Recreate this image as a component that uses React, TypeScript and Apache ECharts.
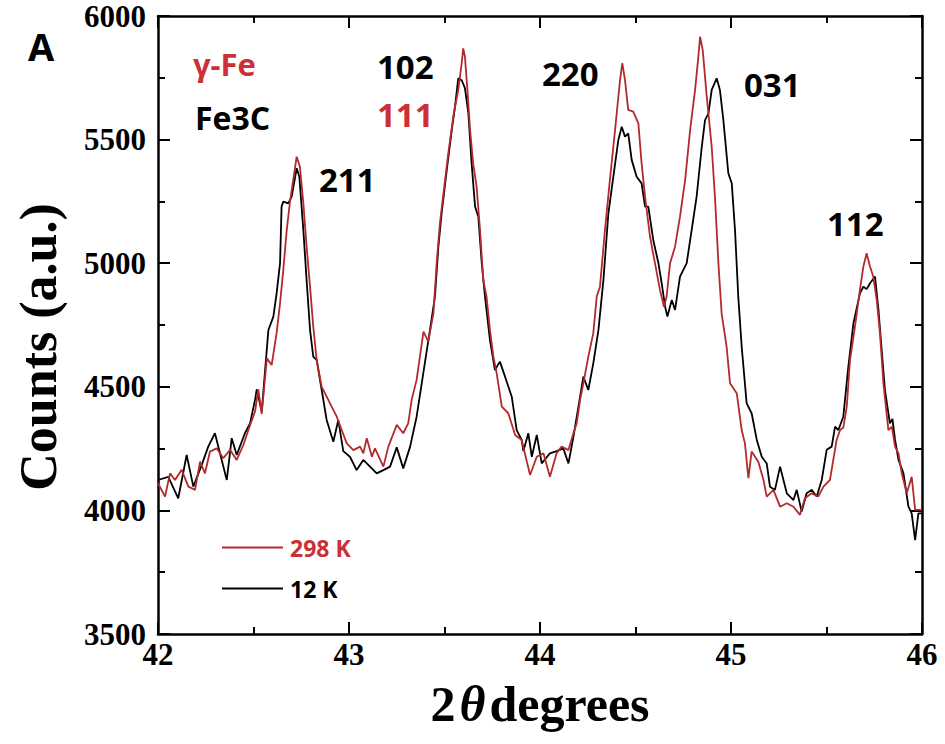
import React, { useEffect, useRef } from "react";
import * as echarts from "echarts";

const xTicks = { min: 42, max: 46, interval: 1 };
const yTicks = { min: 3500, max: 6000, interval: 500 };

const seriesNames = ["298 K", "12 K"];

// 298 K (red) [2θ, counts]
const data298K: number[][] = [
  [42.0, 4110], [42.037, 4056], [42.063, 4150], [42.089, 4123], [42.124, 4164], [42.159, 4096], [42.194, 4083], [42.22, 4197], [42.246, 4150], [42.272, 4238],
  [42.307, 4251], [42.342, 4211], [42.377, 4245], [42.412, 4204], [42.447, 4265], [42.473, 4325], [42.508, 4400], [42.525, 4490], [42.543, 4390], [42.57, 4615],
  [42.595, 4588], [42.621, 4717], [42.639, 4838], [42.656, 4973], [42.674, 5134], [42.691, 5249], [42.708, 5337], [42.726, 5431], [42.743, 5390], [42.761, 5242],
  [42.778, 5067], [42.796, 4905], [42.813, 4743], [42.831, 4608], [42.857, 4500], [42.883, 4460], [42.909, 4420], [42.936, 4379], [42.962, 4325], [42.988, 4271],
  [43.023, 4244], [43.058, 4258], [43.075, 4231], [43.093, 4292], [43.12, 4217], [43.136, 4251], [43.18, 4177], [43.206, 4258], [43.25, 4346], [43.284, 4312],
  [43.31, 4352], [43.328, 4447], [43.354, 4528], [43.39, 4723], [43.415, 4683], [43.442, 4797], [43.459, 5000], [43.476, 5161], [43.503, 5337], [43.52, 5445],
  [43.546, 5593], [43.572, 5701], [43.59, 5809], [43.598, 5869], [43.607, 5835], [43.62, 5701], [43.634, 5539], [43.65, 5404], [43.668, 5310], [43.686, 5134],
  [43.703, 4932], [43.72, 4865], [43.738, 4730], [43.756, 4622], [43.773, 4555], [43.8, 4420], [43.834, 4393], [43.87, 4305], [43.904, 4285], [43.948, 4143],
  [43.983, 4217], [44.018, 4231], [44.052, 4136], [44.087, 4231], [44.113, 4258], [44.149, 4244], [44.175, 4312], [44.192, 4352], [44.21, 4447], [44.227, 4514],
  [44.253, 4622], [44.279, 4717], [44.297, 4865], [44.314, 4905], [44.34, 5134], [44.366, 5337], [44.393, 5539], [44.419, 5741], [44.431, 5809], [44.445, 5741],
  [44.462, 5620], [44.488, 5613], [44.515, 5566], [44.532, 5404], [44.55, 5269], [44.576, 5107], [44.602, 5000], [44.628, 4892], [44.649, 4824], [44.663, 4865],
  [44.681, 5000], [44.707, 5067], [44.733, 5188], [44.76, 5337], [44.786, 5539], [44.812, 5701], [44.829, 5835], [44.838, 5916], [44.852, 5862], [44.873, 5674],
  [44.899, 5471], [44.916, 5269], [44.934, 5000], [44.951, 4797], [44.977, 4662], [44.995, 4514], [45.03, 4474], [45.056, 4325], [45.073, 4271], [45.091, 4130],
  [45.108, 4238], [45.143, 4197], [45.17, 4123], [45.187, 4056], [45.222, 4083], [45.257, 4015], [45.292, 4029], [45.327, 4015], [45.361, 3982], [45.387, 4049],
  [45.422, 4069], [45.457, 4056], [45.484, 4096], [45.518, 4123], [45.553, 4285], [45.571, 4325], [45.588, 4335], [45.606, 4420], [45.623, 4608], [45.649, 4743],
  [45.675, 4892], [45.693, 4986], [45.71, 5040], [45.728, 4986], [45.745, 4946], [45.763, 4851], [45.78, 4716], [45.798, 4514], [45.824, 4325], [45.842, 4339],
  [45.859, 4258], [45.877, 4231], [45.894, 4150], [45.92, 4069], [45.946, 4136], [45.964, 4002], [45.99, 4002], [46.0, 4000],
];

// 12 K (black) [2θ, counts]
const data12K: number[][] = [
  [42.0, 4123], [42.054, 4136], [42.106, 4049], [42.15, 4224], [42.185, 4096], [42.229, 4184], [42.263, 4258], [42.298, 4312], [42.36, 4123], [42.386, 4292],
  [42.412, 4224], [42.455, 4312], [42.482, 4352], [42.508, 4447], [42.517, 4490], [42.543, 4400], [42.578, 4730], [42.604, 4784], [42.621, 4878], [42.639, 5000],
  [42.647, 5229], [42.656, 5249], [42.682, 5242], [42.7, 5269], [42.726, 5384], [42.74, 5350], [42.761, 5134], [42.778, 4932], [42.796, 4730], [42.813, 4622],
  [42.831, 4608], [42.857, 4487], [42.883, 4366], [42.918, 4278], [42.944, 4366], [42.97, 4240], [43.005, 4217], [43.04, 4163], [43.075, 4204], [43.11, 4177],
  [43.145, 4150], [43.18, 4163], [43.215, 4177], [43.25, 4255], [43.284, 4170], [43.32, 4258], [43.354, 4379], [43.39, 4560], [43.424, 4730], [43.45, 4865],
  [43.468, 5067], [43.485, 5202], [43.512, 5377], [43.538, 5539], [43.555, 5633], [43.572, 5748], [43.59, 5740], [43.607, 5708], [43.625, 5606], [43.642, 5404],
  [43.66, 5229], [43.677, 5188], [43.695, 5000], [43.712, 4865], [43.738, 4689], [43.764, 4568], [43.79, 4602], [43.817, 4541], [43.852, 4460], [43.878, 4325],
  [43.904, 4285], [43.913, 4240], [43.939, 4312], [43.957, 4217], [43.983, 4305], [44.009, 4190], [44.052, 4231], [44.087, 4240], [44.122, 4251], [44.149, 4190],
  [44.175, 4298], [44.21, 4460], [44.227, 4541], [44.253, 4487], [44.279, 4595], [44.306, 4730], [44.332, 4932], [44.358, 5202], [44.384, 5350], [44.41, 5498],
  [44.428, 5552], [44.445, 5512], [44.462, 5525], [44.48, 5418], [44.506, 5350], [44.532, 5323], [44.55, 5229], [44.567, 5229], [44.593, 5094], [44.62, 5000],
  [44.637, 4919], [44.655, 4824], [44.667, 4784], [44.69, 4851], [44.707, 4811], [44.733, 4946], [44.768, 5000], [44.794, 5134], [44.82, 5269], [44.847, 5471],
  [44.864, 5579], [44.882, 5606], [44.899, 5701], [44.925, 5748], [44.942, 5701], [44.96, 5579], [44.986, 5364], [45.004, 5323], [45.021, 5134], [45.038, 4865],
  [45.056, 4662], [45.082, 4433], [45.108, 4393], [45.135, 4285], [45.161, 4217], [45.187, 4190], [45.204, 4096], [45.23, 4083], [45.257, 4177], [45.292, 4069],
  [45.327, 4042], [45.344, 4083], [45.37, 3995], [45.396, 4069], [45.422, 4083], [45.449, 4056], [45.475, 4123], [45.501, 4245], [45.527, 4258], [45.545, 4339],
  [45.562, 4325], [45.588, 4379], [45.614, 4580], [45.641, 4757], [45.675, 4878], [45.693, 4905], [45.71, 4895], [45.728, 4919], [45.754, 4946], [45.772, 4811],
  [45.789, 4649], [45.806, 4487], [45.832, 4352], [45.845, 4370], [45.859, 4285], [45.877, 4204], [45.903, 4150], [45.929, 4015], [45.946, 3988], [45.964, 3880],
  [45.981, 3988], [46.0, 3988],
];

const RED_LINE = "#b32a2c";
const RED_TEXT = "#cc2f36";
const SERIF = "'Liberation Serif', 'Times New Roman', serif";
const SANS = "'Open Sans', 'Noto Sans', sans-serif";

export default function App() {
  const ref = useRef<HTMLDivElement>(null);

  useEffect(() => {
    if (!ref.current) return;
    const chart = echarts.init(ref.current, undefined, { renderer: "svg" });

    const axisLine = { show: true, onZero: false, lineStyle: { color: "#000", width: 2.5 } };
    const tickStyle = { color: "#000", width: 2 };

    const xBase = {
      type: "value" as const,
      min: xTicks.min,
      max: xTicks.max,
      interval: xTicks.interval,
      axisLine,
      axisTick: { show: true, inside: true, length: 12, lineStyle: tickStyle },
      minorTick: { show: true, splitNumber: 2, length: 7, lineStyle: tickStyle },
      splitLine: { show: false },
      minorSplitLine: { show: false },
    };
    const yBase = {
      type: "value" as const,
      min: yTicks.min,
      max: yTicks.max,
      interval: yTicks.interval,
      axisLine,
      axisTick: { show: true, inside: true, length: 12, lineStyle: tickStyle },
      minorTick: { show: true, splitNumber: 2, length: 7, lineStyle: tickStyle },
      splitLine: { show: false },
      minorSplitLine: { show: false },
    };

    const annotations: [string, number, number, number, string, string][] = [
      ["A", 28, 46, 38, "#000", SANS],
      ["γ-Fe", 193, 64, 31, RED_TEXT, SANS],
      ["Fe3C", 195, 117, 32, "#000", SANS],
      ["102", 377, 66, 33, "#000", SANS],
      ["111", 377, 114, 33, RED_TEXT, SANS],
      ["211", 319, 179, 33, "#000", SANS],
      ["220", 542, 73, 33, "#000", SANS],
      ["031", 744, 84, 33, "#000", SANS],
      ["112", 827, 223, 33, "#000", SANS],
    ];

    chart.setOption({
      animation: false,
      backgroundColor: "#fff",
      grid: { left: 158, right: 23, top: 16, bottom: 110, containLabel: false },
      xAxis: [
        {
          ...xBase,
          position: "bottom",
          axisLabel: {
            show: true,
            margin: 6,
            color: "#000",
            fontFamily: SERIF,
            fontWeight: "bold",
            fontSize: 31,
            lineHeight: 28,
            formatter: (v: number) => String(v),
          },
        },
        { ...xBase, position: "top", axisLabel: { show: false } },
      ],
      yAxis: [
        {
          ...yBase,
          position: "left",
          axisLabel: {
            show: true,
            margin: 12,
            color: "#000",
            fontFamily: SERIF,
            fontWeight: "bold",
            fontSize: 31,
            formatter: (v: number) => String(v),
          },
        },
        { ...yBase, position: "right", axisLabel: { show: false } },
      ],
      legend: {
        orient: "vertical",
        left: 217,
        top: 531,
        itemWidth: 61,
        itemHeight: 2,
        itemGap: 18,
        icon: "rect",
        selectedMode: false,
        textStyle: { fontFamily: SANS, fontWeight: "bold", fontSize: 23, padding: [0, 0, 0, 2] },
        data: [
          { name: seriesNames[0], textStyle: { color: RED_TEXT } },
          { name: seriesNames[1], textStyle: { color: "#000" } },
        ],
      },
      series: [
        {
          name: seriesNames[1],
          type: "line",
          data: data12K,
          showSymbol: false,
          symbol: "none",
          lineStyle: { color: "#000", width: 1.8 },
          itemStyle: { color: "#000" },
          z: 2,
        },
        {
          name: seriesNames[0],
          type: "line",
          data: data298K,
          showSymbol: false,
          symbol: "none",
          lineStyle: { color: RED_LINE, width: 1.8 },
          itemStyle: { color: RED_LINE },
          z: 3,
        },
      ],
      graphic: [
        {
          type: "text",
          x: 38,
          y: 347,
          rotation: Math.PI / 2,
          style: {
            text: "Counts (a.u.)",
            fill: "#000",
            font: `bold 52px ${SERIF}`,
            textAlign: "center",
            textVerticalAlign: "middle",
          },
        },
        {
          type: "text",
          x: 540,
          y: 704,
          style: {
            text: "{n|2}{t|θ}{n|degrees}",
            textAlign: "center",
            textVerticalAlign: "middle",
            rich: {
              n: { fontFamily: SERIF, fontWeight: "bold", fontSize: 50, lineHeight: 50, fill: "#000" },
              t: { fontFamily: SERIF, fontWeight: "bold", fontStyle: "italic", fontSize: 50, lineHeight: 50, fill: "#000", padding: [0, 4, 0, 4] },
            },
          },
        },
        ...annotations.map(([text, x, y, size, color, family]) => ({
          type: "text",
          x,
          y,
          style: {
            text,
            fill: color,
            font: `bold ${size}px ${family}`,
            textAlign: "left",
            textVerticalAlign: "middle",
          },
        })),
      ],
    });

    return () => chart.dispose();
  }, []);

  return (
    <div
      ref={ref}
      style={{ position: "fixed", left: 0, top: 0, width: 945, height: 744, background: "#fff" }}
    />
  );
}
